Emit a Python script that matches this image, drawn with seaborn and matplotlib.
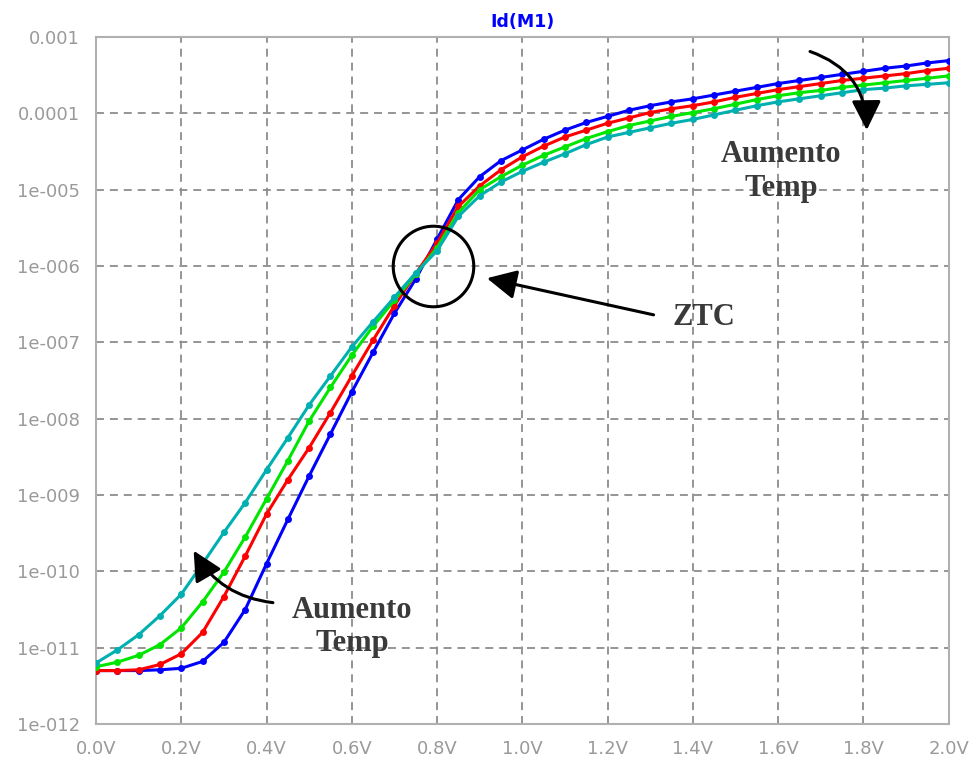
import numpy as np
import pandas as pd
import matplotlib
matplotlib.use("Agg")
import matplotlib.pyplot as plt
import seaborn as sns
from matplotlib.ticker import NullFormatter

# Balayage Vgs (V), un point tous les 50 mV
vgs = [0.00, 0.05, 0.10, 0.15, 0.20, 0.25, 0.30, 0.35, 0.40, 0.45,
       0.50, 0.55, 0.60, 0.65, 0.70, 0.75, 0.80, 0.85, 0.90, 0.95,
       1.00, 1.05, 1.10, 1.15, 1.20, 1.25, 1.30, 1.35, 1.40, 1.45,
       1.50, 1.55, 1.60, 1.65, 1.70, 1.75, 1.80, 1.85, 1.90, 1.95, 2.00]

# log10(Id), une liste par température
log_id_blue = [-11.30, -11.30, -11.30, -11.29, -11.27, -11.18, -10.93, -10.50, -9.90, -9.32,
               -8.75, -8.20, -7.65, -7.13, -6.62, -6.17, -5.65, -5.13, -4.83, -4.62,
               -4.48, -4.34, -4.22, -4.12, -4.04, -3.96, -3.90, -3.85, -3.81, -3.76,
               -3.71, -3.66, -3.61, -3.57, -3.53, -3.49, -3.45, -3.41, -3.38, -3.34, -3.31]
log_id_red = [-11.30, -11.30, -11.29, -11.22, -11.08, -10.80, -10.33, -9.80, -9.25, -8.80,
              -8.38, -7.92, -7.44, -6.97, -6.52, -6.10, -5.70, -5.22, -4.95, -4.74,
              -4.57, -4.43, -4.31, -4.22, -4.13, -4.06, -3.99, -3.94, -3.90, -3.85,
              -3.79, -3.74, -3.69, -3.65, -3.61, -3.57, -3.54, -3.51, -3.48, -3.44, -3.41]
log_id_green = [-11.25, -11.19, -11.10, -10.96, -10.74, -10.40, -10.01, -9.55, -9.05, -8.55,
                 -8.03, -7.59, -7.17, -6.79, -6.45, -6.11, -5.76, -5.30, -5.00, -4.83,
                 -4.68, -4.55, -4.44, -4.33, -4.24, -4.16, -4.10, -4.04, -3.99, -3.94,
                 -3.88, -3.82, -3.77, -3.73, -3.70, -3.66, -3.63, -3.60, -3.57, -3.54, -3.51]
log_id_teal = [-11.20, -11.03, -10.83, -10.58, -10.30, -9.90, -9.49, -9.10, -8.67, -8.25,
               -7.82, -7.44, -7.06, -6.73, -6.41, -6.09, -5.80, -5.35, -5.08, -4.90,
               -4.76, -4.64, -4.53, -4.41, -4.31, -4.25, -4.19, -4.13, -4.08, -4.02,
               -3.96, -3.90, -3.85, -3.81, -3.77, -3.73, -3.69, -3.67, -3.64, -3.62, -3.60]

curves = ["T1", "T2", "T3", "T4"]
colors = ["#0000ff", "#ff0000", "#00e600", "#00b0b0"]

x_ticks = [0.0, 0.2, 0.4, 0.6, 0.8, 1.0, 1.2, 1.4, 1.6, 1.8, 2.0]
x_labels = ["0.0V", "0.2V", "0.4V", "0.6V", "0.8V", "1.0V", "1.2V", "1.4V", "1.6V", "1.8V", "2.0V"]
y_ticks = [1e-12, 1e-11, 1e-10, 1e-9, 1e-8, 1e-7, 1e-6, 1e-5, 1e-4, 1e-3]
y_labels = ["1e-012", "1e-011", "1e-010", "1e-009", "1e-008", "1e-007",
            "1e-006", "1e-005", "0.0001", "0.001"]

# Table longue pour seaborn
frames = []
for name, logs in zip(curves, [log_id_blue, log_id_red, log_id_green, log_id_teal]):
    frames.append(pd.DataFrame({"vgs": vgs, "id": np.power(10.0, logs), "curve": name}))
df = pd.concat(frames, ignore_index=True)

sns.set_style("white")
fig = plt.figure(figsize=(9.71, 7.61), dpi=100)
ax = fig.add_axes([0.0989, 0.0486, 0.878, 0.9028])

sns.lineplot(data=df, x="vgs", y="id", hue="curve", hue_order=curves,
             palette=dict(zip(curves, colors)), marker="o", markersize=5,
             markeredgewidth=0, linewidth=2.2, legend=False, ax=ax, zorder=3)

ax.set_yscale("log")
ax.set_xlim(0, 2)
ax.set_ylim(1e-12, 1e-3)
ax.set_xticks(x_ticks, x_labels)
ax.set_yticks(y_ticks, y_labels)
ax.yaxis.set_minor_formatter(NullFormatter())
ax.set_xlabel("")
ax.set_ylabel("")

ax.grid(True, which="major", color="#8c8c8c", linestyle=(0, (4.4, 3.3)), linewidth=1.3)
ax.grid(False, which="minor")
for sp in ax.spines.values():
    sp.set_color("#b0b0b0")
    sp.set_linewidth(1.5)
ax.tick_params(axis="both", which="major", direction="out", length=8, width=1.3,
               color="#a8a8a8", labelcolor="#9a9a9a", labelsize=13)
ax.tick_params(axis="y", which="minor", direction="out", length=5, width=1.0, color="#a8a8a8")
ax.tick_params(axis="x", which="minor", length=0)

fig.text(522 / 971, 1 - 22 / 761, "Id(M1)", color="#0000ff", fontweight="bold",
         fontsize=12.5, ha="center", va="center")

# Annotations
txt = dict(family="Liberation Serif", weight="bold", size=22, color="#3a3a3a",
           ha="center", va="center", zorder=5)
head = "-|>,head_length=1.0,head_width=0.5"

ax.plot([0.79], [1e-6], marker="o", ms=58, mfc="none", mec="black", mew=2.2, zorder=4)
ax.annotate("", xy=(0.917, 10 ** -6.16), xytext=(1.308, 10 ** -6.64),
            arrowprops=dict(arrowstyle=head, mutation_scale=18, lw=2.2, color="black",
                            shrinkA=0, shrinkB=0), zorder=4)
ax.text(1.425, 10 ** -6.68, "ZTC", **txt)

ax.annotate("", xy=(1.808, 10 ** -4.22), xytext=(1.675, 10 ** -3.19),
            arrowprops=dict(arrowstyle=head, mutation_scale=18, lw=2.2, color="black",
                            shrinkA=0, shrinkB=0, connectionstyle="arc3,rad=-0.35"), zorder=4)
ax.text(1.607, 10 ** -4.76, "Aumento\nTemp", multialignment="center", **txt)

ax.annotate("", xy=(0.229, 10 ** -9.73), xytext=(0.415, 10 ** -10.41),
            arrowprops=dict(arrowstyle=head, mutation_scale=18, lw=2.2, color="black",
                            shrinkA=0, shrinkB=0, connectionstyle="arc3,rad=-0.25"), zorder=4)
ax.text(0.601, 10 ** -10.73, "Aumento\nTemp", multialignment="center", **txt)

fig.savefig("out.png", dpi=100)
plt.close(fig)
